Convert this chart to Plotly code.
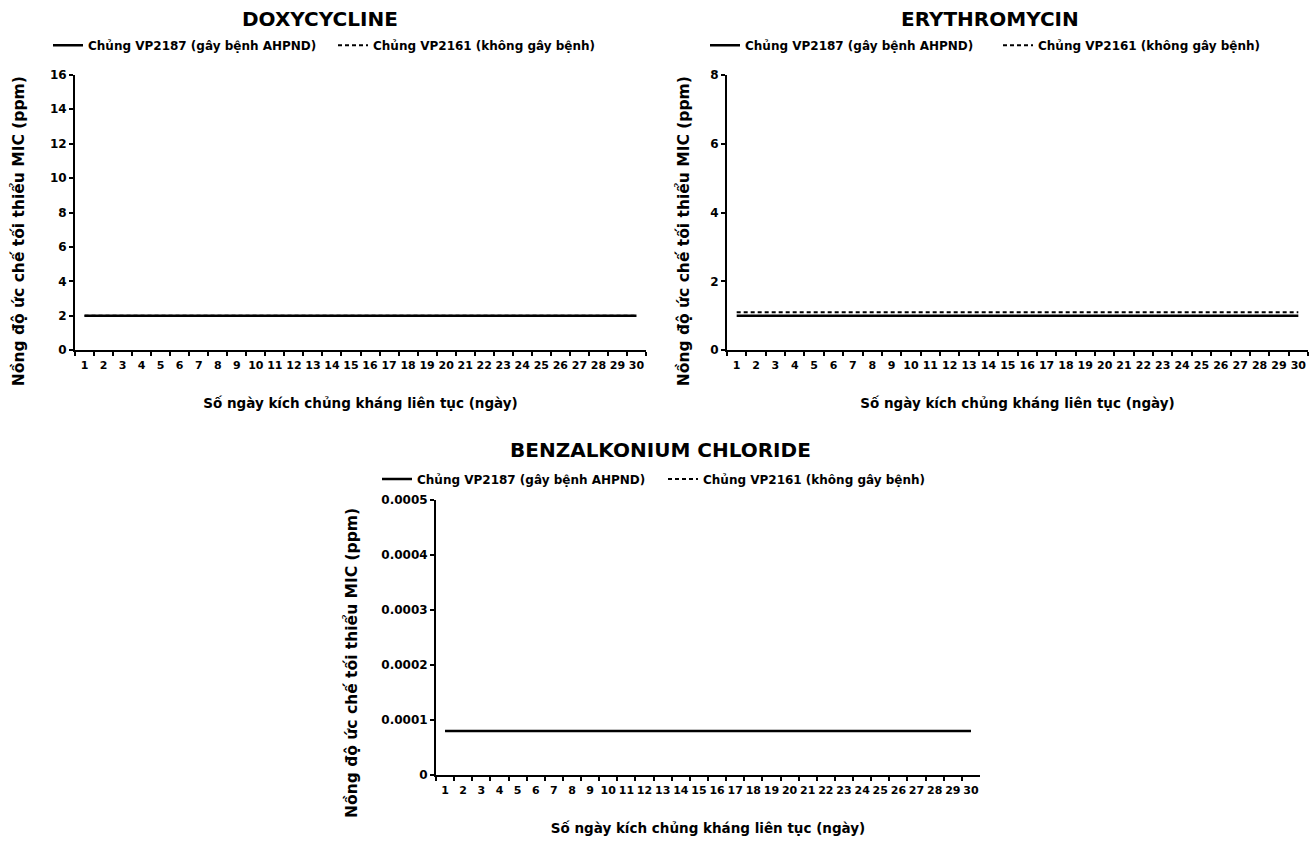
import plotly.graph_objects as go

# Days of continuous exposure
days = ["1", "2", "3", "4", "5", "6", "7", "8", "9", "10",
        "11", "12", "13", "14", "15", "16", "17", "18", "19", "20",
        "21", "22", "23", "24", "25", "26", "27", "28", "29", "30"]

# MIC (ppm) per day
doxy_vp2187 = [2, 2, 2, 2, 2, 2, 2, 2, 2, 2, 2, 2, 2, 2, 2,
               2, 2, 2, 2, 2, 2, 2, 2, 2, 2, 2, 2, 2, 2, 2]
doxy_vp2161 = [2, 2, 2, 2, 2, 2, 2, 2, 2, 2, 2, 2, 2, 2, 2,
               2, 2, 2, 2, 2, 2, 2, 2, 2, 2, 2, 2, 2, 2, 2]
ery_vp2187 = [1, 1, 1, 1, 1, 1, 1, 1, 1, 1, 1, 1, 1, 1, 1,
              1, 1, 1, 1, 1, 1, 1, 1, 1, 1, 1, 1, 1, 1, 1]
ery_vp2161 = [1.1, 1.1, 1.1, 1.1, 1.1, 1.1, 1.1, 1.1, 1.1, 1.1,
              1.1, 1.1, 1.1, 1.1, 1.1, 1.1, 1.1, 1.1, 1.1, 1.1,
              1.1, 1.1, 1.1, 1.1, 1.1, 1.1, 1.1, 1.1, 1.1, 1.1]
bac_vp2187 = [0.00008, 0.00008, 0.00008, 0.00008, 0.00008, 0.00008,
              0.00008, 0.00008, 0.00008, 0.00008, 0.00008, 0.00008,
              0.00008, 0.00008, 0.00008, 0.00008, 0.00008, 0.00008,
              0.00008, 0.00008, 0.00008, 0.00008, 0.00008, 0.00008,
              0.00008, 0.00008, 0.00008, 0.00008, 0.00008, 0.00008]
bac_vp2161 = [0.00008, 0.00008, 0.00008, 0.00008, 0.00008, 0.00008,
              0.00008, 0.00008, 0.00008, 0.00008, 0.00008, 0.00008,
              0.00008, 0.00008, 0.00008, 0.00008, 0.00008, 0.00008,
              0.00008, 0.00008, 0.00008, 0.00008, 0.00008, 0.00008,
              0.00008, 0.00008, 0.00008, 0.00008, 0.00008, 0.00008]

# Axis ticks
doxy_ticks = [0, 2, 4, 6, 8, 10, 12, 14, 16]
ery_ticks = [0, 2, 4, 6, 8]
bac_ticks = [0, 0.0001, 0.0002, 0.0003, 0.0004, 0.0005]
bac_ticklabels = ["0", "0.0001", "0.0002", "0.0003", "0.0004", "0.0005"]

titles = ["DOXYCYCLINE", "ERYTHROMYCIN", "BENZALKONIUM CHLORIDE"]
name_a = "Chủng VP2187 (gây bệnh AHPND)"
name_b = "Chủng VP2161 (không gây bệnh)"
x_title = "Số ngày kích chủng kháng liên tục (ngày)"
y_title = "Nồng độ ức chế tối thiểu MIC (ppm)"

FONT = "DejaVu Sans"
W, H = 1316, 845


def px(x):
    return x / W


def py(y):
    return 1 - y / H


fig = go.Figure()

# one single-entry legend per series so each key sits at its own spot
panels = [
    ("x", "y", "legend", "legend2", doxy_vp2187, doxy_vp2161),
    ("x2", "y2", "legend3", "legend4", ery_vp2187, ery_vp2161),
    ("x3", "y3", "legend5", "legend6", bac_vp2187, bac_vp2161),
]
for xa, ya, lga, lgb, a, b in panels:
    fig.add_trace(go.Scatter(x=days, y=a, mode="lines", name=name_a,
                             xaxis=xa, yaxis=ya, legend=lga,
                             line=dict(color="black", width=2.5)))
    fig.add_trace(go.Scatter(x=days, y=b, mode="lines", name=name_b,
                             xaxis=xa, yaxis=ya, legend=lgb,
                             line=dict(color="black", width=2, dash="4px,3px")))

xtickfont = dict(family=FONT, size=11, color="black", weight="bold")
ytickfont = dict(family=FONT, size=12, color="black", weight="bold")
xtitlefont = dict(family=FONT, size=13.5, color="black", weight="bold")
ytitlefont = dict(family=FONT, size=15.5, color="black", weight="bold")

xcommon = dict(type="category", range=[-0.5, 29.5], tickson="boundaries",
               tickangle=0, ticklabelstandoff=4,
               ticks="outside", ticklen=4, tickwidth=1.5, tickcolor="black",
               showline=True, linecolor="black", linewidth=2,
               showgrid=False, zeroline=False, tickfont=xtickfont,
               title=dict(text=x_title, font=xtitlefont, standoff=27))
ycommon = dict(ticks="outside", ticklen=4, tickwidth=1.5, tickcolor="black",
               showline=True, linecolor="black", linewidth=2,
               showgrid=False, zeroline=False, tickfont=ytickfont)

fig.update_layout(
    xaxis=dict(domain=[px(75), px(646)], anchor="y", **xcommon),
    yaxis=dict(domain=[py(349), py(69)], anchor="x", range=[0, 16],
               tickvals=doxy_ticks, **ycommon),
    xaxis2=dict(domain=[px(727), px(1308)], anchor="y2", **xcommon),
    yaxis2=dict(domain=[py(349), py(69)], anchor="x2", range=[0, 8],
                tickvals=ery_ticks, **ycommon),
    xaxis3=dict(domain=[px(436), px(980)], anchor="y3", **xcommon),
    yaxis3=dict(domain=[py(781), py(501)], anchor="x3", range=[0, 0.0005],
                tickvals=bac_ticks, ticktext=bac_ticklabels, **ycommon),
)

legend_common = dict(orientation="h", font=dict(family=FONT, size=12, color="black", weight="bold"),
                     itemwidth=30, tracegroupgap=0, bgcolor="rgba(0,0,0,0)",
                     xanchor="left", yanchor="middle")
legend_pos = {
    "legend": (48, 39), "legend2": (333, 39),
    "legend3": (705, 39), "legend4": (998, 39),
    "legend5": (377, 480), "legend6": (663, 480),
}
fig.update_layout(**{k: dict(x=px(lx), y=py(ly), **legend_common)
                     for k, (lx, ly) in legend_pos.items()})

# Panel titles
title_pos = [(320, 12), (990, 12), (660, 450)]
for t, (tx, ty) in zip(titles, title_pos):
    fig.add_annotation(text=t, x=px(tx), y=py(ty), xref="paper", yref="paper",
                       showarrow=False, xanchor="center", yanchor="middle",
                       font=dict(family=FONT, size=20, color="black", weight="bold"))

# Vertical axis titles
ytitle_pos = [(18, 228), (683, 228), (352, 667)]
for tx, ty in ytitle_pos:
    fig.add_annotation(text=y_title, x=px(tx), y=py(ty), xref="paper", yref="paper",
                       showarrow=False, textangle=-90,
                       xanchor="center", yanchor="middle", font=ytitlefont)

fig.update_layout(width=W, height=H, autosize=False,
                  margin=dict(l=0, r=0, t=0, b=0),
                  paper_bgcolor="white", plot_bgcolor="white",
                  showlegend=True)

fig.write_html("out.html")
